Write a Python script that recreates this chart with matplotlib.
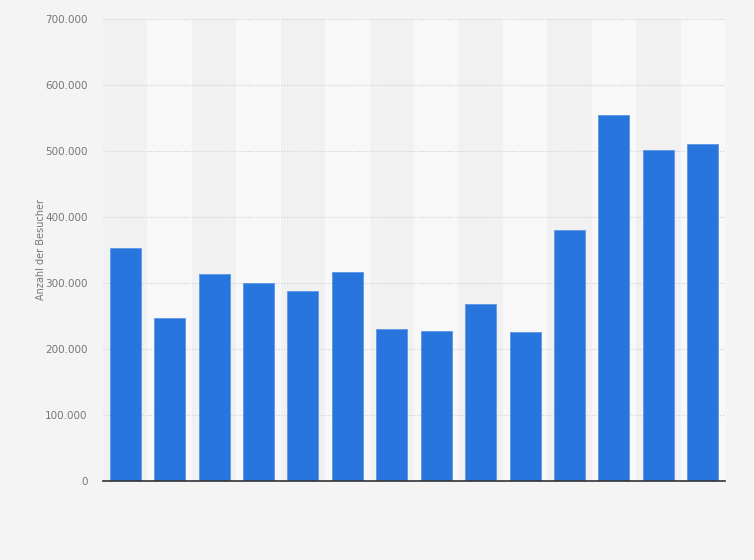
import matplotlib
matplotlib.use("Agg")
import matplotlib.pyplot as plt
import numpy as np

categories = [str(i) for i in range(1, 15)]
values = [353000, 247000, 314000, 300000, 288000, 317000, 230000,
          227000, 268000, 226000, 380000, 554000, 502000, 511000]
yticks = [0, 100000, 200000, 300000, 400000, 500000, 600000, 700000]
ytick_labels = ["0", "100.000", "200.000", "300.000", "400.000", "500.000", "600.000", "700.000"]
ylabel = "Anzahl der Besucher"

fig = plt.figure(figsize=(7.54, 5.6), dpi=100, facecolor="#f4f4f4")
ax = fig.add_axes([103/754, 79/560, (725-103)/754, (481-19)/560])
ax.set_facecolor("#f4f4f4")

x = np.arange(len(categories))
for i in x:
    ax.axvspan(i - 0.5, i + 0.5, color="#f1f1f1" if i % 2 == 0 else "#f8f8f8", zorder=0, lw=0)

ax.bar(x, values, width=0.7, color="#2876dd", edgecolor="#5a97e6", linewidth=0.6, zorder=3)

ax.set_xlim(-0.5, len(categories) - 0.5)
ax.set_ylim(0, 700000)
ax.set_yticks(yticks)
ax.set_yticklabels(ytick_labels, color="#777777", fontsize=7.5)
ax.set_xticks([])
ax.yaxis.grid(True, linestyle=(0, (1, 1.5)), color="#cfcfcf", linewidth=0.8, zorder=1)
ax.tick_params(axis="y", length=0, pad=11)
for s in ["top", "right", "left"]:
    ax.spines[s].set_visible(False)
ax.spines["bottom"].set_color("#333333")
ax.spines["bottom"].set_linewidth(1.2)
ax.spines["bottom"].set_zorder(4)
ax.set_ylabel(ylabel, color="#777777", fontsize=7)
ax.yaxis.set_label_coords(-0.092, 0.5)

fig.savefig("out.png", dpi=100, facecolor=fig.get_facecolor())
